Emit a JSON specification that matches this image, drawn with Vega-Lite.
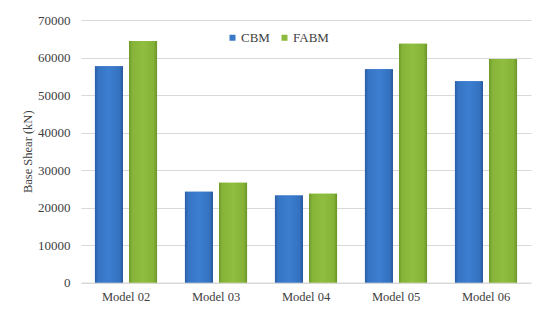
{
  "$schema": "https://vega.github.io/schema/vega-lite/v6.json",
  "width": 450,
  "height": 262.5,
  "autosize": {"type": "none"},
  "padding": {"left": 81, "top": 20, "right": 6, "bottom": 37.5},
  "background": "white",
  "config": {
    "view": {"stroke": null},
    "font": "Liberation Serif",
    "axis": {"labelColor": "#404040", "titleColor": "#404040"}
  },
  "data": {
    "values": [
      {"model": "Model 02", "method": "CBM", "shear": 57700},
      {"model": "Model 02", "method": "FABM", "shear": 64400},
      {"model": "Model 03", "method": "CBM", "shear": 24200},
      {"model": "Model 03", "method": "FABM", "shear": 26600},
      {"model": "Model 04", "method": "CBM", "shear": 23200},
      {"model": "Model 04", "method": "FABM", "shear": 23700},
      {"model": "Model 05", "method": "CBM", "shear": 56900},
      {"model": "Model 05", "method": "FABM", "shear": 63700},
      {"model": "Model 06", "method": "CBM", "shear": 53700},
      {"model": "Model 06", "method": "FABM", "shear": 59600}
    ]
  },
  "encoding": {
    "x": {
      "field": "model", "type": "nominal", "title": null,
      "scale": {"paddingInner": 0.31, "paddingOuter": 0.155},
      "axis": {"labelAngle": 0, "labelFont": "Liberation Serif", "labelFontSize": 12.5, "labelPadding": 8, "ticks": false, "domainColor": "#d9d9d9", "domainWidth": 1}
    },
    "xOffset": {"field": "method", "type": "nominal", "scale": {"paddingInner": 0.176, "paddingOuter": 0}},
    "y": {
      "field": "shear", "type": "quantitative", "title": "Base Shear (kN)",
      "scale": {"domain": [0, 70000]},
      "axis": {"values": [0, 10000, 20000, 30000, 40000, 50000, 60000, 70000], "format": "d", "labelFont": "Liberation Serif", "labelFontSize": 13, "labelPadding": 11, "ticks": false, "domain": false, "gridColor": "#d9d9d9", "titleFont": "Liberation Serif", "titleFontSize": 12.5, "titleFontWeight": "normal", "titlePadding": 3}
    }
  },
  "layer": [
    {
      "mark": {"type": "bar"},
      "encoding": {
        "color": {
          "field": "method", "type": "nominal",
          "scale": {"domain": ["CBM", "FABM"], "range": ["#3a78c8", "#8cba3c"]},
          "legend": {
            "title": null, "orient": "none", "direction": "horizontal", "legendX": 145, "legendY": 11,
            "symbolType": "square", "symbolSize": 36, "symbolStrokeWidth": 0,
            "labelFont": "Liberation Serif", "labelFontSize": 13, "labelColor": "#404040", "labelOffset": 2, "columnPadding": 8
          }
        }
      }
    },
    {
      "transform": [{"filter": "datum.method === 'CBM'"}],
      "mark": {
        "type": "bar",
        "color": {
          "gradient": "linear", "x1": 0, "y1": 0, "x2": 1, "y2": 0,
          "stops": [
            {"offset": 0, "color": "#2b5ea6"},
            {"offset": 0.12, "color": "#3674c4"},
            {"offset": 0.5, "color": "#3c7ed0"},
            {"offset": 0.88, "color": "#3472c0"},
            {"offset": 1, "color": "#28579a"}
          ]
        }
      },
      "encoding": {}
    },
    {
      "transform": [{"filter": "datum.method === 'FABM'"}],
      "mark": {
        "type": "bar",
        "color": {
          "gradient": "linear", "x1": 0, "y1": 0, "x2": 1, "y2": 0,
          "stops": [
            {"offset": 0, "color": "#6f9a2c"},
            {"offset": 0.12, "color": "#86b438"},
            {"offset": 0.5, "color": "#90be40"},
            {"offset": 0.88, "color": "#84b236"},
            {"offset": 1, "color": "#6a9428"}
          ]
        }
      },
      "encoding": {}
    }
  ]
}
